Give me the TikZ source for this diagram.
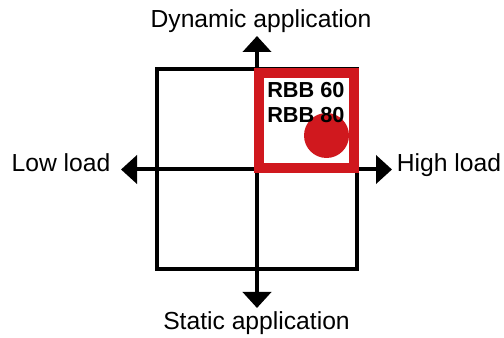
\documentclass[tikz,border=0pt]{standalone}
\usepackage{fontspec}
\setmainfont{Liberation Sans}
\usetikzlibrary{arrows.meta}
\definecolor{rbbred}{RGB}{208,24,30}
\begin{document}
\begin{tikzpicture}[x=0.75pt,y=-0.75pt,
  frame/.style={line width=3pt},
  axis/.style={line width=3pt,-{Triangle[length=12pt,width=21pt]}},
  lab/.style={font=\fontsize{18.5}{20}\selectfont, inner sep=0pt, anchor=base},
  rbb/.style={font=\bfseries\fontsize{16.3}{18}\selectfont, inner sep=0pt, anchor=base west}]
\useasboundingbox (0,0) rectangle (504,338);
% quadrant frame
\node[frame, draw, minimum width=150pt, minimum height=150pt, inner sep=0pt] (box) at (257,169) {};
% axes
\coordinate (o) at (257,169.5);
\coordinate (tN) at (257,36);
\coordinate (tS) at (257,308);
\coordinate (tW) at (121,169.5);
\coordinate (tE) at (392,169.5);
\draw[axis] (o) -- (tN);
\draw[axis] (o) -- (tS);
\draw[axis] (o) -- (tW);
\draw[axis] (o) -- (tE);
% labels
\node[lab] (dyn) at (261,28) {Dynamic application};
\node[lab] (stat) at (256.5,330) {Static application};
\node[lab] (low) at (61,172) {Low load};
\node[lab] (high) at (449,172) {High load};
% red quadrant
\node[draw=rbbred, line width=7.5pt, minimum width=71.25pt, minimum height=70.9pt, inner sep=0pt] (quad) at (306.5,120.75) {};
\node[circle, fill=rbbred, minimum size=33.75pt, inner sep=0pt] (dot) at (326.5,135.5) {};
\node[rbb] (r1) at (267,98) {RBB 60};
\node[rbb] (r2) at (267,123) {RBB 80};
\end{tikzpicture}
\end{document}
